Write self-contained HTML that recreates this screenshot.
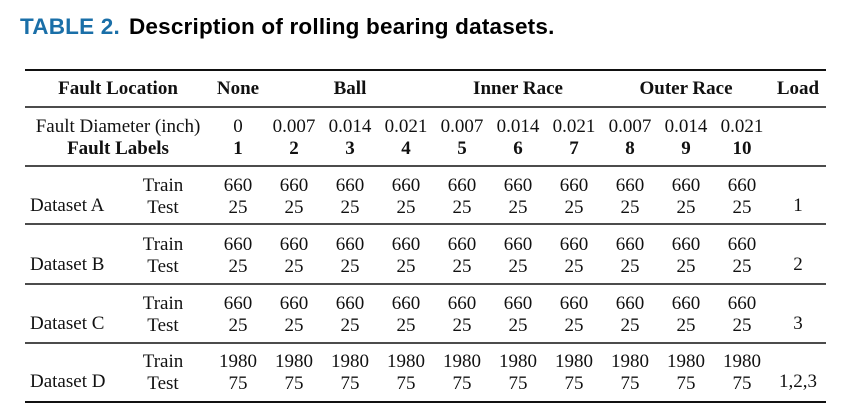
<!DOCTYPE html>
<html><head><meta charset="utf-8"><style>
html,body{margin:0;padding:0;background:#fff;width:864px;height:416px;overflow:hidden}
svg{display:block}
.t{font-family:"Liberation Serif",serif;font-size:19px;fill:#111}
.b{font-weight:bold}
</style></head><body>
<svg width="864" height="416" xmlns="http://www.w3.org/2000/svg">
<text x="20" y="34" style="font-family:'Liberation Sans',sans-serif;font-weight:bold;font-size:22.5px;letter-spacing:0.2px"><tspan fill="#1a6fa8">TABLE 2.</tspan><tspan fill="#000" dx="9">Description of rolling bearing datasets.</tspan></text>
<g id="rules" stroke="#111">
<line x1="25" x2="826" y1="70" y2="70" stroke-width="2"/>
<line x1="25" x2="826" y1="107" y2="107" stroke-width="1.5"/>
<line x1="25" x2="826" y1="166" y2="166" stroke-width="1.5"/>
<line x1="25" x2="826" y1="224" y2="224" stroke-width="1.5"/>
<line x1="25" x2="826" y1="284" y2="284" stroke-width="1.5"/>
<line x1="25" x2="826" y1="343" y2="343" stroke-width="1.5"/>
<line x1="25" x2="826" y1="402" y2="402" stroke-width="2"/>
</g>
<g id="cells" text-anchor="middle"></g>
</svg>
<script>
const colX=[238,294,350,406,462,518,574,630,686,742];
const diam=["0","0.007","0.014","0.021","0.007","0.014","0.021","0.007","0.014","0.021"];
const labels=["1","2","3","4","5","6","7","8","9","10"];
const datasets=["Dataset A","Dataset B","Dataset C","Dataset D"];
const trainN=["660","660","660","1980"];
const testN=["25","25","25","75"];
const loads=["1","2","3","1,2,3"];
const g=document.getElementById('cells');
function T(x,y,s,name,bold,anchor){
  const e=document.createElementNS('http://www.w3.org/2000/svg','text');
  e.setAttribute('x',x);e.setAttribute('y',y);
  e.setAttribute('class','t'+(bold?' b':''));
  if(anchor)e.setAttribute('text-anchor',anchor);
  e.textContent=s;
  
  
  g.appendChild(e);
}
T(118,94,"Fault Location","header-fault-location",true);
T(238,94,"None","header-none",true);
T(350,94,"Ball","header-ball",true);
T(518,94,"Inner Race","header-inner-race",true);
T(686,94,"Outer Race","header-outer-race",true);
T(798,94,"Load","header-load",true);
T(118,132,"Fault Diameter (inch)","fault-diameter-label",false);
T(118,154,"Fault Labels","fault-labels-label",true);
colX.forEach((x,i)=>{T(x,132,diam[i],"diameter-"+(i+1),false);T(x,154,labels[i],"label-"+(i+1),true);});
const rowY=[191,250,309,367];
datasets.forEach((d,r)=>{
  const y=rowY[r];
  T(30,y+20,d,"dataset-name",false,"start");
  T(163,y,"Train","train-label",false);
  T(163,y+22,"Test","test-label",false);
  colX.forEach((x,i)=>{T(x,y,trainN[r],"train-count",false);T(x,y+22,testN[r],"test-count",false);});
  T(798,y+20,loads[r],"load-value",false);
});
</script>
</body></html>
